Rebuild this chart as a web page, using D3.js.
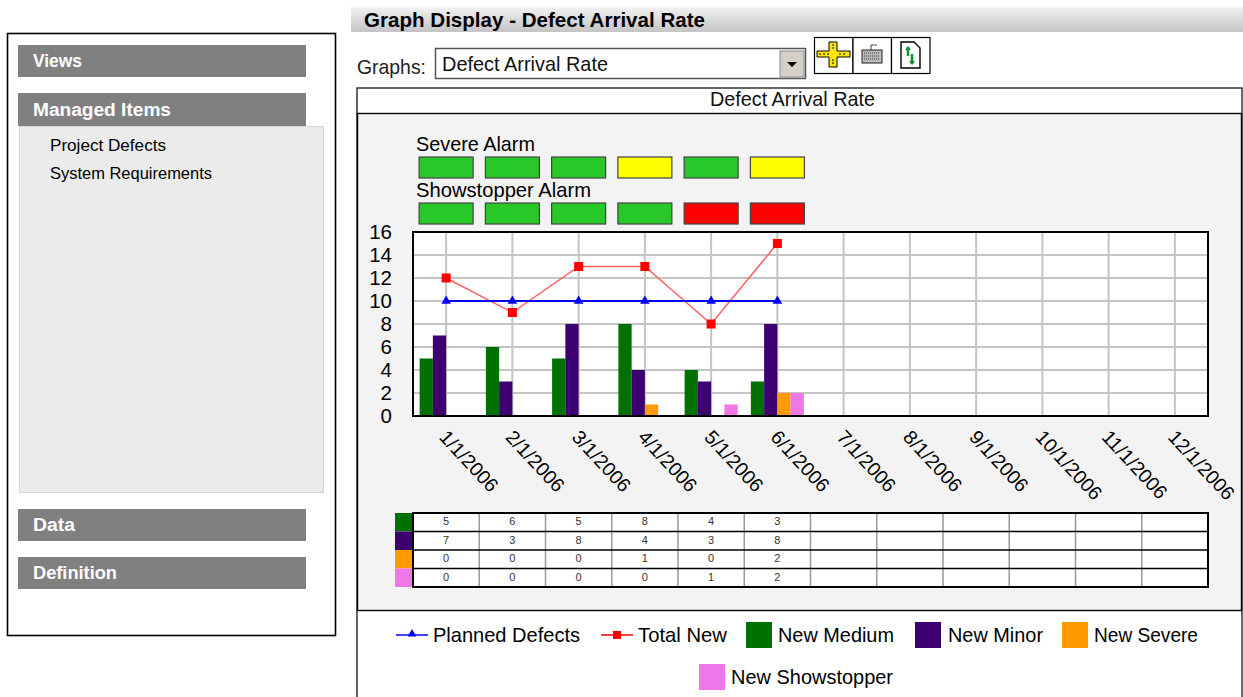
<!DOCTYPE html>
<html>
<head>
<meta charset="utf-8">
<script src="https://cdnjs.cloudflare.com/ajax/libs/d3/7.8.5/d3.min.js"></script>
<style>
html, body { margin: 0; padding: 0; background: #fff; overflow: hidden; }
svg { display: block; }
text { font-family: "Liberation Sans", Arial, sans-serif; fill: #000; }
</style>
</head>
<body>
<div id="chart"></div>
<script>
var months = ["1/1/2006","2/1/2006","3/1/2006","4/1/2006","5/1/2006","6/1/2006",
              "7/1/2006","8/1/2006","9/1/2006","10/1/2006","11/1/2006","12/1/2006"];
var plannedDefects = [10, 10, 10, 10, 10, 10];
var totalNew = [12, 9, 13, 13, 8, 15];
var newMedium = [5, 6, 5, 8, 4, 3];
var newMinor = [7, 3, 8, 4, 3, 8];
var newSevere = [0, 0, 0, 1, 0, 2];
var newShowstopper = [0, 0, 0, 0, 1, 2];
var severeAlarm = ["g", "g", "g", "y", "g", "y"];
var showstopperAlarm = ["g", "g", "g", "g", "r", "r"];
var barNames = ["New Medium", "New Minor", "New Severe", "New Showstopper"];
var barColors = ["#007000", "#3c0070", "#ff9a00", "#ee78e8"];
var yTicks = [0, 2, 4, 6, 8, 10, 12, 14, 16];
var alarmColors = {g: "#28c828", y: "#ffff00", r: "#ff0000"};

var barSeries = [newMedium, newMinor, newSevere, newShowstopper];

var svg = d3.select("#chart").append("svg")
    .attr("width", 1243)
    .attr("height", 697);

// text squeezed to the width it has in the screenshot
function label(parent, s, x, y, size, w, opts) {
    opts = opts || {};
    return parent.append("text")
        .attr("x", x).attr("y", y)
        .attr("font-size", size)
        .attr("font-weight", opts.bold ? "bold" : "normal")
        .attr("textLength", w)
        .attr("lengthAdjust", "spacingAndGlyphs")
        .style("fill", opts.fill || "#000")
        .text(s);
}

// ---- header
var defs = svg.append("defs");
var grad = defs.append("linearGradient").attr("id", "head").attr("x1", 0).attr("x2", 0).attr("y1", 0).attr("y2", 1);
grad.append("stop").attr("offset", "0%").attr("stop-color", "#f2f2f2");
grad.append("stop").attr("offset", "100%").attr("stop-color", "#c4c4c4");
svg.append("rect").attr("x", 351).attr("y", 7).attr("width", 892).attr("height", 25).attr("fill", "url(#head)");
label(svg, "Graph Display - Defect Arrival Rate", 364, 27, 20.5, 341, {bold: true});

// ---- left panel
svg.append("rect").attr("x", 7.5).attr("y", 33.5).attr("width", 328).attr("height", 602)
    .attr("fill", "#fff").attr("stroke", "#000").attr("stroke-width", 1.6);
svg.append("rect").attr("x", 19.5).attr("y", 126.5).attr("width", 304).attr("height", 366)
    .attr("fill", "#ebebeb").attr("stroke", "#d6d6ca");
[[45, 32, "Views", 33, 67, 49], [93, 33, "Managed Items", 33, 116, 138],
 [509, 32, "Data", 33, 531, 42], [557, 32, "Definition", 33, 579, 84]].forEach(function(b) {
    svg.append("rect").attr("x", 18).attr("y", b[0]).attr("width", 288).attr("height", b[1]).attr("fill", "#808080");
    label(svg, b[2], b[3], b[4], 17.5, b[5], {bold: true, fill: "#fff"});
});
label(svg, "Project Defects", 50, 151, 17, 116);
label(svg, "System Requirements", 50, 179, 17, 162);

// ---- graph selector
label(svg, "Graphs:", 357, 74, 21, 69, {fill: "#222"});
svg.append("rect").attr("x", 435.5).attr("y", 48.5).attr("width", 370).attr("height", 30)
    .attr("fill", "#fff").attr("stroke", "#555").attr("stroke-width", 1.5);
label(svg, "Defect Arrival Rate", 442, 71, 21, 166, {fill: "#111"});
svg.append("rect").attr("x", 780).attr("y", 51).attr("width", 24).attr("height", 26).attr("fill", "#d4d0c8").attr("stroke", "#888");
svg.append("path").attr("d", "M787 62h10l-5 5z").attr("fill", "#000");

// toolbar buttons
svg.selectAll(".tool").data([0, 1, 2]).enter().append("rect")
    .attr("class", "tool")
    .attr("x", function(d) { return 814.5 + d * 38.5; })
    .attr("y", 37.5).attr("width", 38.5).attr("height", 36)
    .attr("fill", "#fff").attr("stroke", "#000").attr("stroke-width", 1.2);
svg.append("path").attr("d", "M829 42h8v9h13v6h-13v10h-8v-10h-12v-6h12z").attr("fill", "#ffe600").attr("stroke", "#000");
svg.append("path").attr("d", "M820 53v2M824 53v2M828 53v2M840 53v2M844 53v2M832 45h2M832 48h2M832 60h2M832 63h2").attr("stroke", "#000");
svg.append("rect").attr("x", 862).attr("y", 50).attr("width", 20).attr("height", 13).attr("fill", "#bbb").attr("stroke", "#222");
svg.append("path").attr("d", "M864 53h16M864 56h16M864 59h16").attr("stroke", "#333").attr("stroke-dasharray", "1 1");
svg.append("path").attr("d", "M871 50v-5h6").attr("fill", "none").attr("stroke", "#444");
svg.append("path").attr("d", "M901 42h13l6 6v20h-19z").attr("fill", "#fff").attr("stroke", "#000").attr("stroke-width", 1.4);
svg.append("path").attr("d", "M908 47v9M912 54v10").attr("stroke", "#109030").attr("stroke-width", 2.5);
svg.append("path").attr("d", "M905 50l3-4 3 4zM909 61l3 4 3-4z").attr("fill", "#109030");

// ---- chart frame
svg.append("rect").attr("x", 357).attr("y", 88).attr("width", 885).attr("height", 620)
    .attr("fill", "#fff").attr("stroke", "#000").attr("stroke-width", 1.2);
svg.append("rect").attr("x", 357.5).attr("y", 113.5).attr("width", 884).attr("height", 497)
    .attr("fill", "#f3f3f3").attr("stroke", "#000").attr("stroke-width", 1.4);
label(svg, "Defect Arrival Rate", 710, 106, 21, 165, {fill: "#111"});

// ---- scales
var plot = {left: 413, right: 1208, top: 232, bottom: 416};
var x = d3.scaleBand().domain(months).range([plot.left, plot.right]).paddingInner(0.2).paddingOuter(0.1);
var y = d3.scaleLinear().domain([0, 16]).range([plot.bottom, plot.top]);
var sub = d3.scaleBand().domain(d3.range(barSeries.length)).range([0, x.bandwidth()]);
function cx(i) { return x(months[i]) + x.bandwidth() / 2; }

// ---- alarms
label(svg, "Severe Alarm", 416, 151, 21, 119);
label(svg, "Showstopper Alarm", 416, 197, 21, 175);
[[severeAlarm, 157], [showstopperAlarm, 203]].forEach(function(row) {
    svg.append("g").selectAll("rect").data(row[0]).enter().append("rect")
        .attr("x", function(d, i) { return cx(i) - 27; })
        .attr("y", row[1])
        .attr("width", 54).attr("height", 21)
        .attr("fill", function(d) { return alarmColors[d]; })
        .attr("stroke", "#444").attr("stroke-width", 1.2);
});

// ---- plot area
svg.append("rect").attr("x", plot.left).attr("y", plot.top)
    .attr("width", plot.right - plot.left).attr("height", plot.bottom - plot.top).attr("fill", "#fff");

svg.append("g").selectAll("line").data(yTicks.slice(1, -1)).enter().append("line")
    .attr("x1", plot.left).attr("x2", plot.right)
    .attr("y1", function(d) { return y(d); }).attr("y2", function(d) { return y(d); })
    .attr("stroke", "#c4c4c4").attr("stroke-width", 2);
svg.append("g").selectAll("line").data(months).enter().append("line")
    .attr("x1", function(d, i) { return cx(i); }).attr("x2", function(d, i) { return cx(i); })
    .attr("y1", plot.top).attr("y2", plot.bottom)
    .attr("stroke", "#c4c4c4").attr("stroke-width", 2);

// bars
barSeries.forEach(function(vals, s) {
    svg.append("g").selectAll("rect").data(vals).enter().append("rect")
        .attr("x", function(d, i) { return x(months[i]) + sub(s); })
        .attr("y", function(d) { return y(d); })
        .attr("width", sub.bandwidth())
        .attr("height", function(d) { return plot.bottom - y(d); })
        .attr("fill", barColors[s]);
});

// lines
var line = d3.line().x(function(d, i) { return cx(i); }).y(function(d) { return y(d); });
svg.append("path").datum(totalNew).attr("d", line).attr("fill", "none").attr("stroke", "#ff6060").attr("stroke-width", 1.5);
svg.append("path").datum(plannedDefects).attr("d", line).attr("fill", "none").attr("stroke", "#0000ff").attr("stroke-width", 2);
svg.append("g").selectAll("path").data(plannedDefects).enter().append("path")
    .attr("d", d3.symbol().type(d3.symbolTriangle).size(40))
    .attr("transform", function(d, i) { return "translate(" + cx(i) + "," + y(d) + ")"; })
    .attr("fill", "#0000ff");
svg.append("g").selectAll("rect").data(totalNew).enter().append("rect")
    .attr("x", function(d, i) { return cx(i) - 4.5; })
    .attr("y", function(d) { return y(d) - 4.5; })
    .attr("width", 9).attr("height", 9)
    .attr("fill", "#ff0000");

// axes
var yAxis = svg.append("g")
    .attr("transform", "translate(" + plot.left + ",0)")
    .call(d3.axisLeft(y).tickValues(yTicks).tickSize(0).tickPadding(21));
yAxis.select(".domain").remove();
yAxis.selectAll("text").attr("font-size", 20.5).style("font-family", '"Liberation Sans", Arial, sans-serif');

var xAxis = svg.append("g")
    .attr("transform", "translate(0," + plot.bottom + ")")
    .call(d3.axisBottom(x).tickSize(0));
xAxis.select(".domain").remove();
xAxis.selectAll("text")
    .attr("font-size", 19.5)
    .style("font-family", '"Liberation Sans", Arial, sans-serif')
    .style("text-anchor", "start")
    .attr("x", 0).attr("y", 0).attr("dy", 0)
    .attr("transform", "translate(-8,22) rotate(47)");

svg.append("rect").attr("x", plot.left).attr("y", plot.top)
    .attr("width", plot.right - plot.left).attr("height", plot.bottom - plot.top)
    .attr("fill", "none").attr("stroke", "#000").attr("stroke-width", 2);

// ---- data table
var tableTop = 513, rowH = 18.5;
var rowY = d3.scaleBand().domain(d3.range(barSeries.length)).range([tableTop, tableTop + rowH * barSeries.length]);
var colEdge = d3.scaleLinear().domain([0, months.length]).range([plot.left, plot.right]);
svg.append("rect").attr("x", plot.left).attr("y", tableTop)
    .attr("width", plot.right - plot.left).attr("height", rowH * barSeries.length).attr("fill", "#fff");
svg.append("g").selectAll("line").data(d3.range(1, months.length)).enter().append("line")
    .attr("x1", colEdge).attr("x2", colEdge)
    .attr("y1", tableTop).attr("y2", tableTop + rowH * barSeries.length)
    .attr("stroke", "#999").attr("stroke-width", 1.5);
svg.append("g").selectAll("line").data(d3.range(1, barSeries.length)).enter().append("line")
    .attr("x1", plot.left).attr("x2", plot.right)
    .attr("y1", function(d) { return rowY(d); }).attr("y2", function(d) { return rowY(d); })
    .attr("stroke", "#000").attr("stroke-width", 1.4);
barSeries.forEach(function(vals, s) {
    svg.append("rect").attr("x", 395).attr("y", rowY(s)).attr("width", 18).attr("height", rowY.bandwidth()).attr("fill", barColors[s]);
    svg.append("g").selectAll("text").data(vals).enter().append("text")
        .attr("x", function(d, i) { return cx(i); })
        .attr("y", rowY(s) + rowY.bandwidth() / 2 + 3)
        .attr("text-anchor", "middle")
        .attr("font-size", 11)
        .style("fill", "#333")
        .text(function(d) { return d; });
});
svg.append("rect").attr("x", plot.left).attr("y", tableTop)
    .attr("width", plot.right - plot.left).attr("height", rowH * barSeries.length)
    .attr("fill", "none").attr("stroke", "#000").attr("stroke-width", 2);

// ---- legend
svg.append("line").attr("x1", 396).attr("x2", 428).attr("y1", 635).attr("y2", 635).attr("stroke", "#0000ff").attr("stroke-width", 1.5);
svg.append("path").attr("d", d3.symbol().type(d3.symbolTriangle).size(34)).attr("transform", "translate(412,634)").attr("fill", "#0000ff");
label(svg, "Planned Defects", 433, 642, 21, 147);
svg.append("line").attr("x1", 601).attr("x2", 633).attr("y1", 635).attr("y2", 635).attr("stroke", "#ff0000").attr("stroke-width", 1.5);
svg.append("rect").attr("x", 613).attr("y", 631).attr("width", 8).attr("height", 8).attr("fill", "#ff0000");
label(svg, "Total New", 638, 642, 21, 89);
[[746, 622, 778, 642, 116], [915, 622, 948, 642, 95], [1062, 622, 1094, 642, 104], [699, 664, 731, 684, 162]].forEach(function(l, s) {
    svg.append("rect").attr("x", l[0]).attr("y", l[1]).attr("width", 26).attr("height", 26).attr("fill", barColors[s]);
    label(svg, barNames[s], l[2], l[3], 21, l[4]);
});
</script>
</body>
</html>
